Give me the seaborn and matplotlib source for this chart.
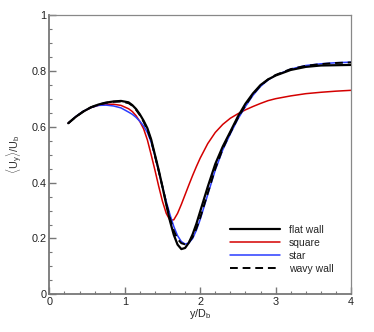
import numpy as np
import pandas as pd
import seaborn as sns
import matplotlib.pyplot as plt
from matplotlib.ticker import MultipleLocator

y_pos = [0.25, 0.35, 0.45, 0.55, 0.65, 0.75, 0.85, 0.95, 1.05, 1.1, 1.15, 1.2, 1.25,
         1.3, 1.35, 1.4, 1.45, 1.5, 1.55, 1.6, 1.65, 1.7, 1.75, 1.8, 1.85, 1.9, 1.95,
         2.0, 2.1, 2.2, 2.3, 2.4, 2.5, 2.6, 2.7, 2.8, 2.9, 3.0, 3.2, 3.4, 3.6, 3.8, 4.0]

flat_wall = [0.613, 0.636, 0.655, 0.670, 0.680, 0.687, 0.691, 0.693, 0.688, 0.678,
             0.664, 0.645, 0.622, 0.595, 0.555, 0.500, 0.445, 0.385, 0.322, 0.262,
             0.213, 0.178, 0.162, 0.166, 0.185, 0.215, 0.253, 0.297, 0.385, 0.467,
             0.530, 0.583, 0.637, 0.683, 0.720, 0.750, 0.770, 0.784, 0.804, 0.815,
             0.820, 0.821, 0.822]

square = [0.613, 0.636, 0.655, 0.669, 0.677, 0.681, 0.681, 0.677, 0.665, 0.655,
          0.640, 0.619, 0.593, 0.553, 0.500, 0.445, 0.387, 0.333, 0.290, 0.265,
          0.267, 0.290, 0.322, 0.357, 0.392, 0.426, 0.458, 0.488, 0.540, 0.580,
          0.609, 0.631, 0.647, 0.661, 0.673, 0.684, 0.694, 0.701, 0.711, 0.719,
          0.724, 0.728, 0.731]

star = [0.613, 0.637, 0.656, 0.669, 0.677, 0.678, 0.675, 0.668, 0.653, 0.645,
        0.634, 0.620, 0.603, 0.580, 0.545, 0.495, 0.440, 0.385, 0.333, 0.285,
        0.243, 0.210, 0.189, 0.180, 0.184, 0.200, 0.230, 0.268, 0.357, 0.445,
        0.518, 0.575, 0.628, 0.673, 0.713, 0.745, 0.768, 0.785, 0.807, 0.820,
        0.826, 0.830, 0.832]

wavy_wall = [0.613, 0.636, 0.655, 0.670, 0.680, 0.686, 0.690, 0.691, 0.685, 0.676,
             0.661, 0.642, 0.618, 0.590, 0.550, 0.497, 0.442, 0.385, 0.326, 0.272,
             0.228, 0.198, 0.183, 0.179, 0.186, 0.205, 0.236, 0.274, 0.362, 0.450,
             0.522, 0.579, 0.632, 0.677, 0.717, 0.748, 0.770, 0.786, 0.807, 0.819,
             0.825, 0.829, 0.831]

x_ticks = [0, 1, 2, 3, 4]
y_ticks = [0, 0.2, 0.4, 0.6, 0.8, 1.0]
y_tick_labels = ['0', '0.2', '0.4', '0.6', '0.8', '1']

sns.set_style('ticks')
plt.rcParams['font.family'] = ['Liberation Sans', 'DejaVu Sans']
plt.rcParams['mathtext.fontset'] = 'custom'
plt.rcParams['mathtext.rm'] = 'Liberation Sans'
plt.rcParams['mathtext.it'] = 'Liberation Sans'

fig = plt.figure(figsize=(3.74, 3.32), dpi=100)
ax = fig.add_axes([0.132, 0.1136, 0.8065, 0.8404])

sns.lineplot(x=y_pos, y=flat_wall, ax=ax, color='black', lw=1.6, label='flat wall', zorder=3)
sns.lineplot(x=y_pos, y=square, ax=ax, color='#d40000', lw=1.1, label='square', zorder=2)
sns.lineplot(x=y_pos, y=star, ax=ax, color='#2a3cff', lw=1.1, label='star', zorder=2.5)
sns.lineplot(x=y_pos, y=wavy_wall, ax=ax, color='black', lw=1.4, label='wavy wall', zorder=4)
ax.lines[-1].set_linestyle((0, (4, 2.5)))

ax.set_xlim(0, 4)
ax.set_ylim(0, 1)
ax.set_xticks(x_ticks)
ax.set_xticklabels([str(t) for t in x_ticks])
ax.set_yticks(y_ticks)
ax.set_yticklabels(y_tick_labels)
ax.xaxis.set_minor_locator(MultipleLocator(0.2))
ax.yaxis.set_minor_locator(MultipleLocator(0.05))

ax.tick_params(which='both', direction='in', top=False, right=False,
               color='#777777', labelsize=7.8, labelcolor='#222222', pad=2)
ax.tick_params(which='major', length=5, width=1.0)
ax.tick_params(which='minor', length=2.5, width=0.8)
for side in ['left', 'bottom']:
    ax.spines[side].set_color('#777777')
    ax.spines[side].set_linewidth(1.3)
for side in ['top', 'right']:
    ax.spines[side].set_visible(True)
    ax.spines[side].set_color('#888888')
    ax.spines[side].set_linewidth(0.9)

ax.set_xlabel(r'y/D$_\mathregular{b}$', fontsize=7.8, labelpad=0)
ax.set_ylabel(r'$\langle$U$_\mathregular{y}\rangle$/U$_\mathregular{b}$', fontsize=7.8,
              color='#333333')
ax.yaxis.set_label_coords(-0.082, 0.5)

ax.legend(loc='upper left', bbox_to_anchor=(0.6, 0.25), frameon=False, fontsize=7.5,
          handlelength=4.8, handletextpad=0.8, labelspacing=0.3, borderpad=0,
          borderaxespad=0)

fig.savefig('out.png', dpi=100)
